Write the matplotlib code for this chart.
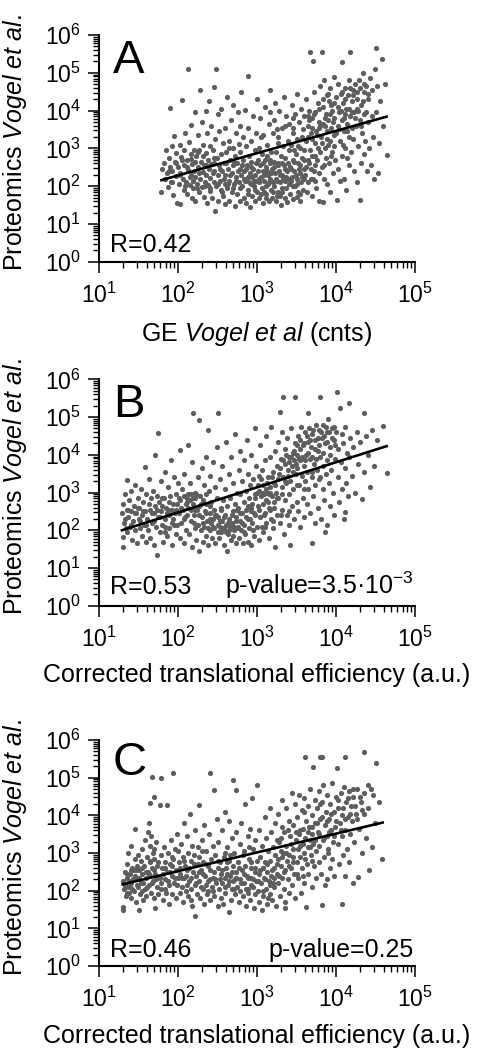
import numpy as np
import matplotlib
matplotlib.use("Agg")
import matplotlib.pyplot as plt
from matplotlib.ticker import LogLocator, NullFormatter

# log10 values: (GE / translational efficiency, proteomics)
A_pts = [
    (1.79,1.84),(1.80,2.45),(1.82,2.62),(1.83,2.18),(1.85,2.95),(1.86,2.35),(1.87,1.98),(1.88,2.75),(1.90,4.08),(1.90,2.52),
    (1.91,2.12),(1.92,3.05),(1.93,2.40),(1.94,1.76),(1.95,3.33),(1.96,2.65),(1.97,2.28),(1.98,2.88),(1.99,1.55),(2.00,2.50),
    (2.01,2.05),(2.02,3.10),(2.03,1.54),(2.03,2.35),(2.04,2.78),(2.05,4.28),(2.06,2.20),(2.07,2.95),(2.07,1.90),(2.08,2.55),
    (2.09,3.40),(2.10,2.12),(2.11,2.68),(2.12,1.80),(2.13,5.10),(2.13,2.42),(2.14,3.18),(2.15,2.02),(2.16,2.85),(2.16,2.30),
    (2.17,3.62),(2.18,1.70),(2.18,2.58),(2.19,2.15),(2.20,2.95),(2.20,2.40),(2.19,1.95),(2.17,2.72),
    (2.21,3.95),(2.22,2.25),(2.22,1.62),(2.23,2.80),(2.24,2.05),(2.25,3.35),(2.25,2.50),(2.26,1.85),(2.27,2.95),(2.28,2.20),
    (2.28,4.55),(2.29,2.65),(2.30,1.98),(2.30,3.70),(2.31,2.38),(2.32,3.10),(2.33,1.72),(2.33,2.55),(2.34,2.12),(2.35,2.88),
    (2.35,4.00),(2.36,2.30),(2.37,1.55),(2.37,3.42),(2.38,2.02),(2.38,2.70),(2.39,2.45),(2.40,1.88),(2.40,3.05),(2.39,4.25),
    (2.41,2.22),(2.42,3.60),(2.42,2.58),(2.43,1.70),(2.44,2.95),(2.45,2.10),(2.45,4.62),(2.46,2.40),(2.47,1.34),(2.47,3.25),
    (2.48,5.09),(2.48,2.00),(2.49,2.75),(2.50,3.90),(2.50,2.30),(2.51,1.62),(2.52,2.55),(2.52,3.45),(2.53,2.15),(2.54,1.90),
    (2.55,2.85),(2.55,4.05),(2.56,2.40),(2.57,1.75),(2.57,3.15),(2.58,2.62),(2.59,2.05),(2.60,3.55),(2.60,2.30),(2.59,1.52),
    (2.61,2.90),(2.62,1.95),(2.62,4.35),(2.63,2.45),(2.64,3.20),(2.65,2.15),(2.65,1.62),(2.66,2.70),(2.67,3.75),(2.68,2.35),
    (2.68,1.85),(2.69,3.00),(2.70,2.55),(2.70,4.15),(2.71,2.05),(2.72,1.48),(2.72,2.80),(2.73,3.40),(2.74,2.25),(2.75,1.78),
    (2.75,2.62),(2.76,3.95),(2.77,2.10),(2.77,3.12),(2.78,2.45),(2.79,1.60),(2.79,2.90),(2.80,2.30),(2.80,4.50),(2.78,3.60),
    (2.81,2.00),(2.82,2.70),(2.82,3.30),(2.83,1.70),(2.84,2.40),(2.85,4.02),(2.85,2.15),(2.86,3.05),(2.86,1.55),(2.87,2.55),
    (2.88,2.25),(2.88,3.55),(2.89,4.92),(2.89,1.90),(2.90,2.80),(2.91,1.46),(2.91,2.35),(2.92,3.20),(2.93,2.05),(2.93,2.65),
    (2.94,1.75),(2.95,3.85),(2.95,2.45),(2.96,2.15),(2.97,2.95),(2.97,1.62),(2.98,2.30),(2.99,3.40),(2.99,2.60),(3.00,1.85),
    (3.00,4.30),(2.96,2.00),
    (3.01,2.40),(3.02,2.10),(3.02,3.00),(3.03,1.68),(3.04,2.55),(3.04,3.80),(3.05,2.25),(3.06,1.95),(3.06,2.85),(3.07,2.40),
    (3.08,3.35),(3.08,1.55),(3.09,2.15),(3.10,2.70),(3.10,4.10),(3.11,2.00),(3.12,2.50),(3.12,1.78),(3.13,3.10),(3.14,2.30),
    (3.14,2.05),(3.15,3.65),(3.15,1.62),(3.16,2.60),(3.17,4.55),(3.17,2.20),(3.18,2.90),(3.18,1.90),(3.19,2.45),(3.20,3.40),
    (3.20,2.10),(3.19,1.70),(3.16,3.95),(3.13,2.80),(3.11,2.35),(3.09,1.85),
    (3.21,2.65),(3.22,2.00),(3.22,3.75),(3.23,2.35),(3.24,1.60),(3.24,2.90),(3.25,2.15),(3.26,3.30),(3.26,2.55),(3.27,1.85),
    (3.28,2.40),(3.28,4.00),(3.29,2.10),(3.30,2.80),(3.30,1.50),(3.31,3.55),(3.32,2.30),(3.32,1.95),(3.33,3.05),(3.34,2.55),
    (3.34,4.35),(3.35,2.15),(3.36,1.70),(3.36,2.75),(3.37,3.85),(3.38,2.40),(3.38,1.58),(3.39,3.20),(3.40,2.05),(3.40,2.95),
    (3.35,3.60),(3.31,2.62),(3.27,3.15),(3.23,4.20),(3.29,1.75),(3.37,2.25),
    (3.41,3.65),(3.42,2.50),(3.42,1.80),(3.43,3.10),(3.44,2.25),(3.44,4.15),(3.45,2.70),(3.46,1.65),(3.46,3.40),(3.47,2.40),
    (3.48,2.00),(3.48,3.90),(3.49,2.85),(3.50,2.20),(3.50,4.45),(3.51,3.25),(3.52,1.85),(3.52,2.60),(3.53,3.70),(3.54,2.35),
    (3.54,1.62),(3.55,3.00),(3.56,4.05),(3.56,2.10),(3.57,2.75),(3.58,3.50),(3.58,1.90),(3.59,2.45),(3.60,3.85),(3.60,2.95),
    (3.55,2.55),(3.51,1.72),(3.47,2.95),(3.43,2.15),(3.57,3.30),(3.45,3.80),
    (3.61,2.30),(3.62,4.30),(3.62,3.20),(3.63,1.85),(3.64,2.70),(3.65,3.60),(3.65,2.10),(3.66,4.00),(3.67,5.54),(3.67,2.95),
    (3.68,2.45),(3.68,3.40),(3.69,1.75),(3.70,3.80),(3.70,2.80),(3.71,5.30),(3.71,2.20),(3.72,4.50),(3.73,3.15),(3.73,2.55),
    (3.74,3.95),(3.75,1.95),(3.75,3.45),(3.76,2.70),(3.77,4.20),(3.77,3.00),(3.78,2.35),(3.79,3.70),(3.79,1.60),(3.80,4.65),
    (3.80,2.90),(3.64,3.85),(3.69,3.25),(3.74,2.15),(3.66,2.60),(3.78,3.55),
    (3.81,3.30),(3.82,5.54),(3.82,2.50),(3.83,1.57),(3.83,4.10),(3.84,3.65),(3.85,2.20),(3.85,4.80),(3.86,3.00),(3.87,3.90),
    (3.87,2.75),(3.88,4.40),(3.89,3.45),(3.89,2.05),(3.90,3.75),(3.91,2.60),(3.91,4.25),(3.92,3.20),(3.93,1.85),(3.93,4.60),
    (3.94,3.55),(3.95,2.90),(3.95,4.00),(3.96,2.35),(3.97,3.35),(3.97,4.90),(3.98,3.80),(3.99,2.70),(4.00,4.35),(4.01,1.63),
    (3.86,3.60),(3.90,3.10),(3.94,4.15),(3.98,3.05),
    (4.02,3.60),(4.03,2.45),(4.03,4.70),(4.04,3.95),(4.05,3.20),(4.06,4.45),(4.07,5.28),(4.07,2.80),(4.08,3.75),(4.09,4.20),
    (4.10,2.20),(4.10,3.45),(4.11,4.60),(4.12,3.00),(4.13,4.05),(4.13,1.90),(4.14,3.65),(4.15,4.40),(4.16,2.55),(4.16,3.30),
    (4.17,4.80),(4.18,5.54),(4.18,3.85),(4.19,2.90),(4.20,4.25),(4.20,3.55),(4.05,2.15),(4.09,3.10),(4.14,2.75),(4.11,3.90),
    (4.21,4.55),(4.22,3.25),(4.23,2.40),(4.23,3.95),(4.24,4.70),(4.25,3.60),(4.26,2.10),(4.27,4.30),(4.28,3.05),(4.29,4.80),
    (4.30,1.63),(4.30,3.75),(4.31,2.60),(4.32,4.15),(4.33,3.40),(4.34,5.00),(4.35,2.85),(4.35,4.50),(4.36,3.90),(4.37,3.20),
    (4.38,4.65),(4.39,2.40),(4.40,3.70),(4.26,4.05),
    (4.41,4.30),(4.42,3.00),(4.43,4.85),(4.44,2.55),(4.45,3.85),(4.46,4.55),(4.47,3.30),(4.48,2.20),(4.49,5.10),(4.50,3.95),
    (4.51,5.67),(4.52,4.65),(4.53,2.34),(4.54,3.15),(4.56,4.25),(4.58,5.36),(4.60,3.60),(4.64,2.82),(4.62,4.70),
]
# extra points in the dense middle of the cloud
A_core = [
    (1.84,2.20),(1.89,2.40),(1.93,2.10),(1.97,2.60),(2.02,2.30),(2.05,2.70),(2.09,2.00),(2.12,2.50),(2.15,2.25),(2.21,2.65),
    (2.24,1.95),(2.27,2.35),(2.31,2.80),(2.34,2.00),(2.36,2.55),(2.41,1.95),(2.44,2.35),(2.46,2.75),(2.50,2.05),(2.53,2.45),
    (2.56,1.85),(2.58,2.20),(2.61,2.60),(2.63,2.05),(2.66,2.30),(2.69,1.95),(2.71,2.65),(2.73,2.15),(2.76,2.40),(2.78,1.95),
    (2.81,2.55),(2.83,2.20),(2.86,2.45),(2.88,1.80),(2.90,2.10),(2.92,2.50),(2.94,2.25),(2.97,1.90),(2.99,2.15),(3.01,2.70),
    (3.03,2.20),(3.05,1.80),(3.07,2.60),(3.09,2.30),(3.11,1.70),(3.13,2.40),(3.15,2.10),(3.17,2.70),(3.18,2.35),(3.20,1.85),
    (3.22,2.50),(3.24,2.20),(3.25,1.75),(3.27,2.60),(3.29,2.30),(3.31,1.85),(3.33,2.20),(3.35,2.45),(3.37,1.95),(3.39,2.60),
    (3.41,2.20),(3.43,2.45),(3.45,2.00),(3.47,2.65),(3.49,2.30),(3.51,2.05),(3.53,2.45),(3.55,1.80),(3.57,2.25),(3.59,2.70),
    (3.62,2.50),(3.64,3.30),(3.66,3.75),(3.68,2.20),(3.70,3.55),(3.72,3.90),(3.74,2.80),(3.76,3.35),(3.78,4.05),(3.80,3.60),
    (3.82,3.15),(3.84,4.30),(3.86,3.80),(3.88,3.25),(3.90,4.45),(3.92,3.90),(3.94,2.80),(3.96,3.70),(3.98,4.20),(4.00,3.40),
    (4.02,4.10),(4.04,3.50),(4.06,4.00),(4.08,4.50),(4.10,3.80),(4.12,4.30),(4.14,3.45),(4.16,4.05),(4.18,4.60),(4.20,3.95),
    (4.22,4.40),(4.24,3.80),(4.26,4.50),(4.28,4.00),(4.30,4.60),(4.32,3.60),(4.34,4.25),(4.36,4.70),(4.38,3.95),(4.40,4.45),
    (3.05,3.30),(3.25,3.50),(3.45,3.55),(2.65,3.00),(2.45,2.60),(2.25,2.90),(3.60,2.20),(3.72,2.40),(3.85,2.55),(3.52,3.05),
]

B_pts = [
    (1.29,2.45),(1.30,1.83),(1.31,1.56),(1.31,2.70),(1.32,2.20),(1.33,2.95),(1.34,2.05),(1.35,3.33),(1.35,2.55),(1.36,1.95),
    (1.37,2.35),(1.38,2.80),(1.39,2.10),(1.40,3.05),(1.41,2.50),(1.42,1.75),(1.43,2.25),(1.44,2.65),(1.45,3.20),(1.46,2.00),
    (1.47,2.45),(1.48,1.65),(1.49,2.85),(1.50,2.30),
    (1.51,2.60),(1.52,2.05),(1.53,3.10),(1.54,1.85),(1.55,2.40),(1.56,2.75),(1.57,2.15),(1.58,3.68),(1.58,2.50),(1.59,1.70),
    (1.60,2.95),(1.61,2.30),(1.62,2.00),(1.63,3.35),(1.64,2.55),(1.65,1.80),(1.66,2.85),(1.67,2.20),(1.68,3.05),(1.69,2.45),
    (1.70,1.60),(1.71,3.99),(1.71,2.65),(1.72,2.10),(1.73,2.90),(1.74,1.34),(1.75,4.58),(1.75,2.35),
    (1.76,2.75),(1.77,1.95),(1.78,3.30),(1.79,2.50),(1.80,2.15),(1.81,1.70),(1.82,2.85),(1.83,3.55),(1.84,2.30),(1.85,2.60),
    (1.86,1.85),(1.87,3.15),(1.88,2.40),(1.89,2.05),(1.90,2.90),(1.91,3.85),(1.92,2.20),(1.93,1.60),(1.94,2.70),(1.95,3.40),
    (1.96,2.45),(1.97,1.90),(1.98,2.95),(1.99,2.15),(2.00,3.25),(1.80,2.65),(1.84,1.95),(1.89,2.55),(1.94,2.30),(1.99,2.70),
    (2.01,2.45),(2.02,1.80),(2.03,4.13),(2.03,2.80),(2.04,2.20),(2.05,3.10),(2.06,2.55),(2.07,1.65),(2.08,2.90),(2.08,3.50),
    (2.09,2.35),(2.10,2.00),(2.11,2.75),(2.12,2.85),(2.13,4.26),(2.13,2.60),(2.14,1.90),(2.15,3.25),(2.15,2.80),(2.16,2.25),
    (2.17,2.95),(2.18,1.55),(2.18,3.80),(2.19,5.11),(2.19,2.70),(2.20,2.40),(2.21,2.05),(2.22,3.00),(2.22,2.85),(2.23,1.75),
    (2.24,2.55),(2.25,3.40),(2.25,2.15),(2.11,2.40),
    (2.26,1.46),(2.27,4.92),(2.27,2.65),(2.28,2.90),(2.29,2.00),(2.30,3.65),(2.30,2.35),(2.31,1.70),(2.32,2.80),(2.33,3.20),
    (2.33,2.10),(2.34,2.50),(2.35,1.85),(2.36,3.95),(2.36,2.70),(2.37,2.25),(2.38,4.67),(2.38,1.60),(2.39,3.05),(2.40,2.45),
    (2.41,2.00),(2.41,3.45),(2.42,2.75),(2.43,1.80),(2.44,2.30),(2.44,3.80),(2.45,2.55),(2.46,2.05),(2.47,3.15),(2.47,1.65),
    (2.48,2.40),(2.49,4.20),(2.49,2.85),(2.50,2.15),(2.35,2.95),(2.42,2.20),
    (2.51,5.11),(2.51,2.35),(2.52,1.80),(2.53,3.35),(2.53,2.10),(2.54,2.60),(2.55,1.95),(2.56,3.70),(2.56,2.25),(2.57,2.80),
    (2.58,1.60),(2.58,2.05),(2.59,3.10),(2.60,2.40),(2.61,2.15),(2.61,4.35),(2.62,1.46),(2.62,2.65),(2.63,1.90),(2.64,3.50),
    (2.64,2.30),(2.65,2.00),(2.66,2.85),(2.67,1.75),(2.67,3.95),(2.68,2.20),(2.69,2.50),(2.70,1.85),(2.70,3.25),(2.71,2.10),
    (2.72,2.70),(2.72,4.55),(2.73,1.65),(2.74,2.35),(2.75,3.00),(2.75,2.05),
    (2.76,2.60),(2.77,3.60),(2.77,1.80),(2.78,2.25),(2.79,4.10),(2.79,2.95),(2.80,2.00),(2.81,3.30),(2.81,2.45),(2.82,1.65),
    (2.83,2.75),(2.84,3.85),(2.84,2.15),(2.85,1.90),(2.86,3.05),(2.86,2.55),(2.87,4.40),(2.88,2.30),(2.88,1.70),(2.89,3.50),
    (2.90,2.85),(2.90,2.05),(2.91,3.20),(2.92,2.50),(2.92,1.60),(2.93,4.00),(2.94,2.70),(2.94,2.20),(2.95,3.35),(2.96,1.85),
    (2.97,2.95),(2.97,4.70),(2.98,2.40),(2.99,3.70),(3.00,2.10),(3.00,3.00),
    (3.01,2.65),(3.02,3.45),(3.02,1.75),(3.03,3.05),(3.04,2.35),(3.04,4.25),(3.05,2.90),(3.06,2.10),(3.06,3.60),(3.07,2.70),
    (3.08,3.20),(3.08,1.95),(3.09,2.95),(3.10,3.85),(3.10,2.45),(3.11,3.10),(3.12,2.20),(3.12,4.50),(3.13,3.00),(3.14,2.75),
    (3.14,3.40),(3.15,1.80),(3.16,2.55),(3.16,3.95),(3.17,3.15),(3.18,2.30),(3.18,4.75),(3.19,2.90),(3.20,3.55),(3.20,2.05),
    (3.21,3.25),(3.22,2.60),(3.23,1.56),(3.23,4.10),(3.24,3.00),(3.25,2.40),(3.25,3.70),(3.15,2.95),
    (3.26,4.35),(3.27,2.85),(3.28,3.50),(3.29,5.14),(3.29,2.20),(3.30,3.90),(3.31,3.15),(3.31,2.55),(3.32,4.60),(3.33,5.54),
    (3.33,3.40),(3.34,1.90),(3.35,3.75),(3.35,2.80),(3.36,4.15),(3.37,3.25),(3.38,2.40),(3.38,4.45),(3.39,3.60),(3.40,2.95),
    (3.41,3.95),(3.41,2.15),(3.42,1.61),(3.42,3.30),(3.43,4.70),(3.44,3.70),(3.44,2.65),(3.45,4.05),(3.46,3.10),(3.47,3.85),
    (3.47,2.30),(3.48,5.54),(3.48,4.30),(3.49,3.50),(3.50,2.75),(3.50,4.00),
    (3.51,3.65),(3.52,4.50),(3.52,2.50),(3.53,3.20),(3.54,4.15),(3.55,3.85),(3.55,2.10),(3.56,4.75),(3.57,3.45),(3.58,2.85),
    (3.58,4.25),(3.59,3.70),(3.60,2.35),(3.61,4.60),(3.61,3.30),(3.62,4.00),(3.63,2.70),(3.63,3.55),(3.64,4.35),(3.65,5.10),
    (3.65,3.10),(3.66,4.70),(3.67,2.45),(3.67,3.90),(3.68,4.20),(3.69,1.65),(3.69,3.40),(3.70,4.55),(3.71,2.90),(3.72,3.75),
    (3.73,4.40),(3.73,2.20),(3.74,3.20),(3.75,4.80),
    (3.76,3.60),(3.77,4.10),(3.77,2.60),(3.78,4.65),(3.79,3.35),(3.80,5.54),(3.80,3.95),(3.81,2.30),(3.82,4.45),(3.83,3.10),
    (3.83,4.80),(3.84,3.70),(3.85,2.80),(3.86,4.30),(3.87,3.50),(3.88,4.60),(3.88,2.15),(3.89,3.85),(3.90,4.95),(3.91,3.25),
    (3.92,4.20),(3.93,2.65),(3.94,3.60),(3.95,4.70),(3.96,3.00),(3.97,4.40),(3.98,2.40),(3.99,3.90),(4.00,4.60),(3.86,1.95),
    (4.01,5.67),(4.02,3.40),(4.03,4.15),(4.04,2.75),(4.05,5.23),(4.06,3.80),(4.07,4.55),(4.08,3.10),(4.09,4.30),(4.10,2.30),
    (4.11,2.49),(4.11,3.65),(4.12,4.75),(4.13,3.25),(4.14,4.05),(4.15,2.90),(4.16,5.36),(4.17,3.95),(4.18,4.45),(4.20,3.45),
    (4.22,4.20),(4.24,3.00),
    (4.26,4.60),(4.28,3.75),(4.30,4.35),(4.33,2.84),(4.35,5.10),(4.36,3.55),(4.38,4.50),(4.40,4.00),(4.43,3.15),(4.45,4.65),
    (4.48,3.70),(4.52,4.40),(4.60,4.76),(4.64,3.51),
]
B_core = [
    (1.33,2.30),(1.37,2.55),(1.41,2.15),(1.45,2.45),(1.49,2.60),(1.52,2.25),(1.56,2.50),(1.60,2.15),(1.63,2.70),(1.67,2.45),
    (1.70,2.25),(1.73,2.55),(1.77,2.35),(1.80,2.85),(1.83,2.10),(1.86,2.45),(1.89,2.75),(1.92,2.55),(1.95,2.15),(1.98,2.55),
    (2.01,2.85),(2.04,2.60),(2.07,2.30),(2.10,2.70),(2.13,2.95),(2.16,2.55),(2.19,2.85),(2.21,2.55),(2.23,2.95),(2.26,2.40),
    (2.29,2.70),(2.32,2.20),(2.35,2.45),(2.38,2.05),(2.41,2.30),(2.44,2.10),(2.47,2.40),(2.50,1.95),(2.53,2.25),(2.56,2.05),
    (2.58,2.35),(2.61,1.95),(2.63,2.20),(2.66,2.10),(2.68,2.40),(2.71,2.00),(2.73,2.25),(2.76,2.10),(2.78,2.45),(2.81,2.20),
    (2.83,1.95),(2.86,2.35),(2.88,2.65),(2.91,2.30),(2.93,2.60),(2.96,2.45),(2.98,2.85),(3.01,3.20),(3.03,2.55),(3.05,3.35),
    (3.07,3.00),(3.09,2.40),(3.11,2.80),(3.13,3.25),(3.15,2.60),(3.17,3.00),(3.19,3.40),(3.21,2.75),(3.23,3.20),(3.25,2.85),
    (3.27,3.35),(3.29,3.65),(3.31,2.95),(3.33,3.85),(3.35,3.30),(3.37,4.00),(3.39,3.45),(3.41,3.80),(3.43,3.95),(3.45,3.55),
    (3.47,4.10),(3.49,3.75),(3.51,4.25),(3.53,3.90),(3.55,4.40),(3.57,3.95),(3.59,4.30),(3.61,3.85),(3.63,4.50),(3.65,4.05),
    (3.67,4.40),(3.69,3.95),(3.71,4.65),(3.73,4.15),(3.75,3.90),(3.77,4.45),(3.79,4.25),(3.81,4.60),(3.83,4.05),(3.85,4.50),
    (3.87,4.75),(3.89,4.35),(3.91,4.60),(3.93,4.00),(3.95,4.45),(3.97,4.75),(3.99,4.25),(3.30,2.40),(3.20,2.25),(3.10,2.10),
    (2.95,2.00),(2.75,2.55),(2.55,2.55),(2.40,2.65),(2.20,2.20),(3.60,3.10),(3.70,3.55),(3.80,3.40),(3.50,3.20),(3.40,2.50),
]

C_pts = [
    (1.30,2.25),(1.31,1.58),(1.31,1.49),(1.32,2.05),(1.33,2.50),(1.34,1.85),(1.35,2.35),(1.36,2.70),(1.37,2.99),(1.37,2.10),
    (1.38,1.95),(1.39,2.45),(1.40,2.20),(1.41,3.20),(1.41,1.80),(1.42,2.60),(1.43,2.30),(1.44,2.00),(1.45,2.85),(1.46,3.65),
    (1.46,2.40),(1.47,1.70),(1.48,2.15),(1.48,2.65),(1.49,2.95),(1.50,1.49),(1.50,2.30),(1.44,2.55),(1.39,2.15),(1.35,1.95),
    (1.51,2.55),(1.52,1.90),(1.53,2.80),(1.53,2.20),(1.54,3.10),(1.55,2.45),(1.56,1.75),(1.57,2.65),(1.58,2.05),(1.58,3.35),
    (1.59,2.35),(1.60,1.85),(1.61,2.90),(1.62,2.50),(1.62,3.55),(1.63,2.15),(1.64,2.75),(1.64,3.20),(1.65,4.32),(1.65,2.40),
    (1.66,1.95),(1.66,3.45),(1.67,5.01),(1.67,2.60),(1.68,3.00),(1.68,2.25),(1.69,4.50),(1.69,1.80),(1.70,2.85),(1.71,1.53),
    (1.71,2.45),(1.72,3.30),(1.73,2.10),(1.74,2.65),(1.75,1.90),(1.63,3.80),
    (1.77,4.27),(1.77,2.35),(1.78,2.95),(1.79,4.98),(1.79,2.05),(1.80,2.60),(1.81,1.75),(1.82,3.15),(1.83,2.30),(1.84,2.75),
    (1.85,1.95),(1.86,4.27),(1.86,2.50),(1.87,3.00),(1.88,2.15),(1.89,1.65),(1.90,2.70),(1.91,3.35),(1.92,2.40),(1.93,1.90),
    (1.94,5.12),(1.94,2.85),(1.95,2.20),(1.96,3.10),(1.97,2.55),(1.98,1.80),(1.99,3.50),(2.00,2.35),(1.84,2.05),(1.92,2.90),
    (2.01,2.75),(2.02,1.95),(2.03,2.45),(2.04,3.25),(2.05,2.10),(2.06,2.90),(2.06,1.70),(2.07,3.80),(2.08,2.35),(2.09,2.65),
    (2.10,2.00),(2.11,3.45),(2.12,2.55),(2.13,1.85),(2.13,3.00),(2.14,2.25),(2.15,4.05),(2.16,2.80),(2.17,2.05),(2.18,3.20),
    (2.18,1.60),(2.19,2.50),(2.20,2.95),(2.21,2.15),(2.22,1.33),(2.22,3.60),(2.23,2.40),(2.24,1.90),(2.25,2.70),(2.25,3.15),
    (2.10,2.40),(2.16,1.75),
    (2.26,2.25),(2.27,4.27),(2.27,2.90),(2.28,1.80),(2.29,2.55),(2.30,3.35),(2.31,2.05),(2.32,2.75),(2.33,3.75),(2.33,1.65),
    (2.34,2.40),(2.35,3.05),(2.36,2.15),(2.37,1.90),(2.38,2.65),(2.39,3.50),(2.40,2.30),(2.41,5.12),(2.41,1.75),(2.42,2.85),
    (2.43,2.10),(2.44,3.20),(2.45,4.67),(2.45,2.50),(2.46,1.85),(2.47,2.95),(2.48,2.20),(2.49,3.90),(2.50,2.60),(2.50,1.60),
    (2.38,2.00),(2.44,2.35),
    (2.51,3.30),(2.52,2.05),(2.53,2.75),(2.54,1.80),(2.55,2.45),(2.56,3.60),(2.56,2.20),(2.57,1.65),(2.58,2.90),(2.59,2.35),
    (2.60,4.10),(2.60,1.95),(2.61,2.60),(2.62,3.15),(2.63,2.15),(2.64,1.44),(2.64,2.80),(2.65,3.85),(2.66,2.40),(2.67,1.75),
    (2.68,3.40),(2.68,2.05),(2.69,2.65),(2.70,4.94),(2.70,2.25),(2.71,3.00),(2.72,1.90),(2.73,2.50),(2.74,4.67),(2.74,3.55),
    (2.75,2.10),(2.62,2.45),(2.66,2.95),(2.72,2.30),
    (2.76,2.75),(2.77,1.70),(2.78,3.25),(2.78,2.30),(2.79,2.00),(2.80,3.80),(2.81,2.55),(2.82,1.85),(2.83,3.05),(2.84,2.20),
    (2.85,4.30),(2.85,2.65),(2.86,1.60),(2.87,2.40),(2.88,3.45),(2.89,2.05),(2.90,2.85),(2.91,1.75),(2.91,3.65),(2.92,2.35),
    (2.93,2.60),(2.94,4.45),(2.95,2.10),(2.95,3.10),(2.96,1.55),(2.97,2.50),(2.98,3.35),(2.99,2.25),(3.00,4.81),(3.00,2.80),
    (2.82,2.95),(2.88,1.95),(2.93,2.15),(2.98,1.90),
    (3.01,2.00),(3.02,3.60),(3.02,2.45),(3.03,1.70),(3.04,2.90),(3.05,2.20),(3.06,1.49),(3.06,3.20),(3.07,2.60),(3.08,1.85),
    (3.09,2.35),(3.10,3.95),(3.10,2.75),(3.11,2.05),(3.12,3.40),(3.13,1.65),(3.13,2.50),(3.14,3.05),(3.15,2.25),(3.16,4.20),
    (3.16,1.90),(3.17,2.80),(3.18,3.55),(3.18,2.40),(3.19,1.75),(3.20,3.15),(3.21,2.60),(3.22,2.10),(3.23,3.80),(3.23,2.95),
    (3.24,1.60),(3.25,2.45),(3.08,2.60),(3.14,1.80),(3.20,2.20),(3.25,3.35),
    (3.26,2.85),(3.27,4.05),(3.27,2.20),(3.28,3.30),(3.29,1.85),(3.30,2.65),(3.31,3.70),(3.31,2.35),(3.32,4.40),(3.33,3.00),
    (3.34,2.05),(3.34,3.55),(3.35,2.55),(3.36,1.70),(3.37,3.20),(3.37,4.20),(3.38,2.80),(3.39,2.30),(3.40,3.85),(3.41,2.95),
    (3.41,1.95),(3.42,3.45),(3.43,2.60),(3.44,4.60),(3.44,2.15),(3.45,3.10),(3.46,3.75),(3.47,2.45),(3.48,4.30),(3.48,1.80),
    (3.49,3.35),(3.50,2.75),(3.30,3.05),(3.39,3.60),(3.46,2.90),(3.35,1.55),
    (3.51,3.95),(3.52,2.35),(3.53,3.50),(3.53,4.55),(3.54,2.90),(3.55,3.20),(3.56,1.95),(3.57,4.15),(3.57,2.60),(3.58,3.65),
    (3.59,3.00),(3.60,4.45),(3.60,2.20),(3.61,5.56),(3.61,3.40),(3.62,1.58),(3.62,3.85),(3.63,2.70),(3.64,4.25),(3.65,3.15),
    (3.65,2.45),(3.66,3.70),(3.67,4.70),(3.68,2.95),(3.69,3.50),(3.70,2.10),(3.70,4.00),(3.71,5.29),(3.71,3.25),(3.72,2.65),
    (3.73,4.40),(3.74,3.80),(3.75,2.35),(3.75,3.05),(3.58,2.40),(3.67,3.35),
    (3.76,4.20),(3.77,3.55),(3.78,2.75),(3.78,4.65),(3.79,3.20),(3.80,5.56),(3.80,3.90),(3.81,2.45),(3.82,5.56),(3.82,4.35),
    (3.82,1.62),(3.83,3.35),(3.84,4.80),(3.85,2.90),(3.86,3.75),(3.87,4.10),(3.88,2.30),(3.88,3.45),(3.89,4.55),(3.90,3.00),
    (3.91,3.90),(3.92,2.60),(3.93,4.30),(3.94,3.60),(3.95,4.85),(3.95,2.85),(3.96,3.30),(3.97,4.10),(3.98,2.40),(3.99,3.70),
    (4.00,4.50),(3.86,2.15),
    (4.01,5.25),(4.02,3.25),(4.03,4.20),(4.04,2.70),(4.05,3.80),(4.06,4.60),(4.07,1.66),(4.07,3.45),(4.08,4.00),(4.09,2.95),
    (4.10,4.75),(4.11,5.56),(4.11,3.60),(4.12,2.40),(4.13,4.35),(4.14,3.10),(4.15,3.95),(4.16,4.65),(4.17,2.75),(4.18,3.50),
    (4.19,4.25),(4.20,3.85),(4.21,2.20),(4.22,4.50),(4.23,3.30),(4.25,4.05),
    (4.27,4.70),(4.28,2.37),(4.29,3.65),(4.31,4.35),(4.33,3.00),(4.35,5.69),(4.36,4.05),(4.38,3.40),(4.40,4.80),(4.42,2.55),
    (4.45,3.17),(4.47,4.55),(4.49,3.80),(4.51,5.38),(4.55,4.35),(4.58,2.83),
]
C_core = [
    (1.33,2.15),(1.36,2.45),(1.38,2.25),(1.40,2.55),(1.42,2.05),(1.45,2.35),(1.47,2.55),(1.49,2.10),(1.51,2.35),(1.54,2.60),
    (1.56,2.20),(1.59,2.50),(1.61,2.10),(1.63,2.45),(1.65,2.80),(1.67,2.20),(1.70,2.55),(1.72,2.30),(1.75,2.75),(1.78,2.20),
    (1.81,2.45),(1.84,2.60),(1.87,2.25),(1.90,2.50),(1.93,2.65),(1.96,2.35),(1.99,2.15),(2.02,2.60),(2.05,2.35),(2.08,2.80),
    (2.11,2.15),(2.14,2.60),(2.17,2.35),(2.20,2.70),(2.23,2.20),(2.26,2.50),(2.29,2.10),(2.32,2.45),(2.35,2.70),(2.38,2.25),
    (2.41,2.55),(2.44,2.00),(2.47,2.30),(2.50,2.80),(2.53,2.30),(2.56,2.55),(2.59,2.10),(2.62,2.75),(2.65,2.25),(2.68,2.50),
    (2.71,2.05),(2.74,2.35),(2.77,2.60),(2.80,2.20),(2.83,2.45),(2.86,2.05),(2.89,2.35),(2.92,2.75),(2.95,2.30),(2.98,2.60),
    (3.01,2.25),(3.04,2.55),(3.07,2.00),(3.10,2.30),(3.13,2.70),(3.16,2.15),(3.19,2.55),(3.22,2.35),(3.25,2.70),(3.28,2.40),
    (3.31,2.90),(3.34,2.50),(3.37,3.00),(3.40,2.65),(3.43,3.25),(3.46,2.75),(3.49,3.55),(3.52,3.10),(3.55,3.60),(3.58,3.25),
    (3.61,2.85),(3.64,3.55),(3.67,3.15),(3.70,3.70),(3.73,3.35),(3.76,3.80),(3.79,3.50),(3.82,3.95),(3.85,3.40),(3.88,3.85),
    (3.91,3.55),(3.94,4.05),(3.97,3.45),(4.00,3.85),(4.03,4.40),(4.06,3.60),(4.09,4.20),(4.12,3.90),(4.15,4.45),(4.18,4.05),
    (4.21,4.70),(4.24,4.25),(4.27,3.90),(4.30,4.50),(4.33,4.15),(4.36,4.60),(4.40,4.20),(4.44,4.70),(3.60,4.10),(3.80,4.30),
    (3.50,2.45),(3.70,2.80),(3.90,3.10),(3.30,3.40),(2.90,3.15),(2.60,3.00),(2.30,3.05),(2.00,3.05),(1.70,3.10),(1.55,2.00),
]

# regression line end points (log10 x, log10 y)
A_fit = [(1.79, 2.16), (4.64, 3.84)]
B_fit = [(1.29, 2.00), (4.64, 4.23)]
C_fit = [(1.30, 2.17), (4.59, 3.81)]

LETTERS = ["A", "B", "C"]
R_TEXT = ["R=0.42", "R=0.53", "R=0.46"]
P_TEXT = [None, "p-value=3.5·10$^{-3}$", "p-value=0.25"]
XLABELS = ["GE $\\it{Vogel\\ et\\ al}$ (cnts)",
           "Corrected translational efficiency (a.u.)",
           "Corrected translational efficiency (a.u.)"]
YLABEL = "Proteomics $\\it{Vogel\\ et\\ al.}$"

DOT, INK = "#5e5e5e", "#000000"
plt.rcParams.update({
    "font.family": ["Liberation Sans", "DejaVu Sans"],
    "mathtext.fontset": "custom", "mathtext.rm": "Liberation Sans",
    "mathtext.it": "Liberation Sans:italic", "mathtext.bf": "Liberation Sans:bold",
    "axes.linewidth": 1.5,
})

fig = plt.figure(figsize=(4.87, 10.52), dpi=100)
# [left, bottom, width, height] of each panel
boxes = [[0.2033, 0.7512, 0.6489, 0.2155],
         [0.2033, 0.4242, 0.6489, 0.2152],
         [0.2033, 0.0817, 0.6489, 0.2148]]
letter_y = [0.832, 0.832, 0.845]
r_y = [0.041, 0.052, 0.041]
panels = [(A_pts + A_core, A_fit), (B_pts + B_core, B_fit), (C_pts + C_core, C_fit)]

for i, (pts, fit) in enumerate(panels):
    ax = fig.add_axes(boxes[i])
    p = 10 ** np.array(pts)
    f = 10 ** np.array(fit)
    ax.scatter(p[:, 0], p[:, 1], s=14, color=DOT, linewidths=0, zorder=2)
    ax.plot(f[:, 0], f[:, 1], color=INK, lw=1.9, zorder=3)
    ax.set_xscale("log"); ax.set_yscale("log")
    ax.set_xlim(10, 1e5); ax.set_ylim(1, 1e6)
    for a in (ax.xaxis, ax.yaxis):
        a.set_major_locator(LogLocator(base=10, numticks=12))
        a.set_minor_locator(LogLocator(base=10, subs=np.arange(2, 10), numticks=12))
        a.set_minor_formatter(NullFormatter())
    ax.spines[["top", "right"]].set_visible(False)
    ax.tick_params(which="major", direction="out", length=8, width=1.1, labelsize=16.5, color=INK)
    ax.tick_params(which="minor", direction="out", length=4.5, width=1.0, color=INK)
    ax.tick_params(axis="y", which="major", pad=5)
    ax.tick_params(axis="x", which="major", pad=7)
    ax.set_xlabel(XLABELS[i], fontsize=18)
    ax.xaxis.set_label_coords(0.5, -0.255)
    ax.set_ylabel(YLABEL, fontsize=18)
    ax.yaxis.set_label_coords(-0.22, 0.525)
    ax.text(0.044, letter_y[i], LETTERS[i], transform=ax.transAxes, fontsize=34,
            ha="left", va="baseline")
    ax.text(0.035, r_y[i], R_TEXT[i], transform=ax.transAxes, fontsize=18,
            ha="left", va="baseline")
    if P_TEXT[i]:
        ax.text(0.995, r_y[i], P_TEXT[i], transform=ax.transAxes, fontsize=18,
                ha="right", va="baseline")

fig.savefig("out.png", dpi=100)
